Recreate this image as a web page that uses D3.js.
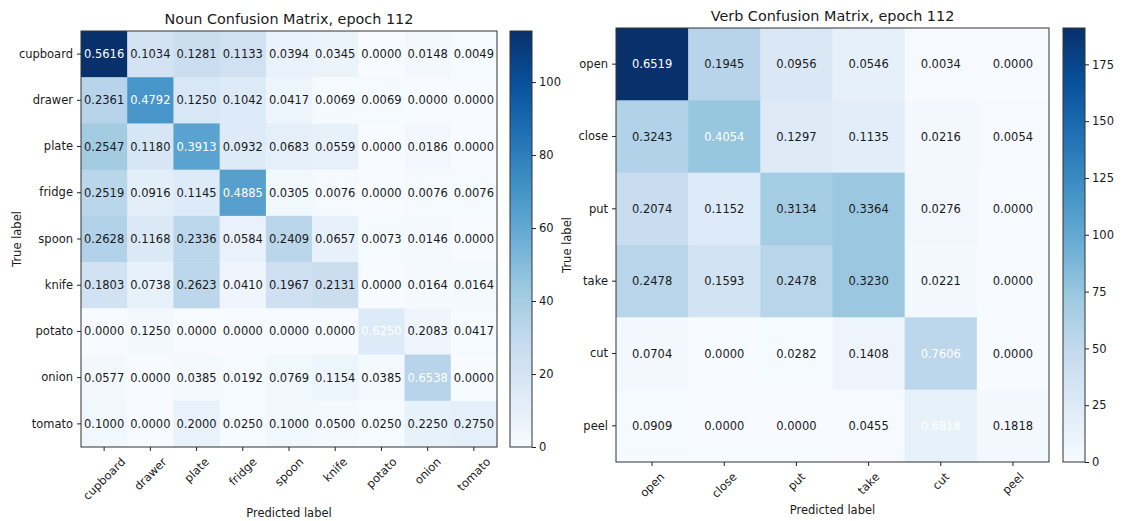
<!DOCTYPE html>
<html>
<head>
<meta charset="utf-8">
<script src="https://cdn.jsdelivr.net/npm/d3@7"></script>
<style>
  body { margin: 0; background: #fff; }
  text { font-family: "DejaVu Sans", sans-serif; }
</style>
</head>
<body>
<svg id="chart" width="1127" height="521"></svg>
<script>
// ---- Noun classes: row-normalised rates and number of samples per true class ----
const nounLabels = ["cupboard", "drawer", "plate", "fridge", "spoon", "knife", "potato", "onion", "tomato"];
const nounRates = [
  [0.5616, 0.1034, 0.1281, 0.1133, 0.0394, 0.0345, 0.0000, 0.0148, 0.0049],
  [0.2361, 0.4792, 0.1250, 0.1042, 0.0417, 0.0069, 0.0069, 0.0000, 0.0000],
  [0.2547, 0.1180, 0.3913, 0.0932, 0.0683, 0.0559, 0.0000, 0.0186, 0.0000],
  [0.2519, 0.0916, 0.1145, 0.4885, 0.0305, 0.0076, 0.0000, 0.0076, 0.0076],
  [0.2628, 0.1168, 0.2336, 0.0584, 0.2409, 0.0657, 0.0073, 0.0146, 0.0000],
  [0.1803, 0.0738, 0.2623, 0.0410, 0.1967, 0.2131, 0.0000, 0.0164, 0.0164],
  [0.0000, 0.1250, 0.0000, 0.0000, 0.0000, 0.0000, 0.6250, 0.2083, 0.0417],
  [0.0577, 0.0000, 0.0385, 0.0192, 0.0769, 0.1154, 0.0385, 0.6538, 0.0000],
  [0.1000, 0.0000, 0.2000, 0.0250, 0.1000, 0.0500, 0.0250, 0.2250, 0.2750]
];
const nounSupport = [203, 144, 161, 131, 137, 122, 24, 52, 40];
const nounColorTicks = [0, 20, 40, 60, 80, 100];

// ---- Verb classes ----
const verbLabels = ["open", "close", "put", "take", "cut", "peel"];
const verbRates = [
  [0.6519, 0.1945, 0.0956, 0.0546, 0.0034, 0.0000],
  [0.3243, 0.4054, 0.1297, 0.1135, 0.0216, 0.0054],
  [0.2074, 0.1152, 0.3134, 0.3364, 0.0276, 0.0000],
  [0.2478, 0.1593, 0.2478, 0.3230, 0.0221, 0.0000],
  [0.0704, 0.0000, 0.0282, 0.1408, 0.7606, 0.0000],
  [0.0909, 0.0000, 0.0000, 0.0455, 0.6818, 0.1818]
];
const verbSupport = [293, 185, 217, 226, 71, 22];
const verbColorTicks = [0, 25, 50, 75, 100, 125, 150, 175];

const epoch = 112;

// Sequential "Blues" ramp, piecewise-linear through the ColorBrewer stops
const bluesStops = ["#f7fbff", "#deebf7", "#c6dbef", "#9ecae1", "#6baed6",
                    "#4292c6", "#2171b5", "#08519c", "#08306b"];

const FS = 11.5;        // tick / cell text size
const TITLE_FS = 14.4;  // title size
const TICK = 4, PAD = 4;
const SPINE = "#333";

const svg = d3.select("#chart");

function drawMatrix(cfg) {
  const { labels, rates, support, colorTicks, title } = cfg;
  const n = labels.length;
  // counts behind each rate: rate * samples in the true class
  const counts = rates.map((row, i) => row.map(r => Math.round(r * support[i])));
  const maxCount = d3.max(counts.flat());
  const maxRate = d3.max(rates.flat());

  const x = d3.scaleBand().domain(d3.range(n)).range([cfg.left, cfg.left + cfg.width]);
  const y = d3.scaleBand().domain(d3.range(n)).range([cfg.top, cfg.top + cfg.height]);
  const color = d3.scaleLinear()
    .domain(bluesStops.map((_, k) => k / (bluesStops.length - 1) * maxCount))
    .range(bluesStops)
    .interpolate(d3.interpolateRgb);

  const g = svg.append("g");

  const cells = [];
  counts.forEach((row, i) => row.forEach((c, j) => cells.push({ i, j, c, r: rates[i][j] })));

  g.selectAll("rect.cell").data(cells).join("rect")
    .attr("class", "cell")
    .attr("x", d => x(d.j)).attr("y", d => y(d.i))
    .attr("width", x.bandwidth() + 0.5).attr("height", y.bandwidth() + 0.5)
    .attr("fill", d => color(d.c));

  g.selectAll("text.val").data(cells).join("text")
    .attr("class", "val")
    .attr("x", d => x(d.j) + x.bandwidth() / 2)
    .attr("y", d => y(d.i) + y.bandwidth() / 2)
    .attr("text-anchor", "middle")
    .attr("dominant-baseline", "central")
    .attr("font-size", FS)
    .attr("fill", d => d.r > maxRate / 2 ? "#fff" : "#1a1a1a")
    .text(d => d.r.toFixed(4));

  // frame
  g.append("rect")
    .attr("x", cfg.left).attr("y", cfg.top)
    .attr("width", cfg.width).attr("height", cfg.height)
    .attr("fill", "none").attr("stroke", SPINE).attr("stroke-width", 1);

  // y axis
  const yAxis = g.append("g").attr("transform", `translate(${cfg.left},0)`)
    .call(d3.axisLeft(y).tickSize(TICK).tickSizeOuter(0).tickPadding(PAD).tickFormat(i => labels[i]));
  yAxis.select(".domain").remove();
  yAxis.selectAll("line").attr("stroke", "#222");
  yAxis.selectAll("text").attr("font-size", FS).attr("fill", "#1a1a1a")
    .attr("font-family", "DejaVu Sans, sans-serif");

  // x axis with 45° labels centred under each tick
  const bottom = cfg.top + cfg.height;
  const xAxis = g.append("g").attr("transform", `translate(0,${bottom})`)
    .call(d3.axisBottom(x).tickSize(TICK).tickSizeOuter(0).tickFormat(i => labels[i]));
  xAxis.select(".domain").remove();
  xAxis.selectAll("line").attr("stroke", "#222");
  const lineH = FS * 1.164;
  xAxis.selectAll("text")
    .attr("font-size", FS).attr("fill", "#1a1a1a")
    .attr("font-family", "DejaVu Sans, sans-serif")
    .attr("y", null).attr("dy", null)
    .attr("text-anchor", "middle")
    .attr("dominant-baseline", "central")
    .each(function () {
      const w = this.getComputedTextLength();
      const h = (w + lineH) * Math.SQRT1_2;
      d3.select(this).attr("transform", `translate(0,${TICK + PAD + h / 2}) rotate(-45)`);
    });

  // titles and axis names
  g.append("text")
    .attr("x", cfg.left + cfg.width / 2).attr("y", cfg.top - 7)
    .attr("text-anchor", "middle").attr("font-size", TITLE_FS).attr("fill", "#1a1a1a")
    .text(title);
  g.append("text")
    .attr("transform", `translate(${cfg.ylabelX},${cfg.top + cfg.height / 2}) rotate(-90)`)
    .attr("text-anchor", "middle").attr("dominant-baseline", "central")
    .attr("font-size", FS).attr("fill", "#1a1a1a")
    .text("True label");
  g.append("text")
    .attr("x", cfg.left + cfg.width / 2).attr("y", cfg.xlabelY)
    .attr("text-anchor", "middle").attr("font-size", FS).attr("fill", "#1a1a1a")
    .text("Predicted label");

  // colour bar
  const gradId = "grad-" + cfg.key;
  const grad = svg.append("defs").append("linearGradient")
    .attr("id", gradId).attr("x1", 0).attr("y1", 1).attr("x2", 0).attr("y2", 0);
  bluesStops.forEach((c, k) => grad.append("stop")
    .attr("offset", k / (bluesStops.length - 1)).attr("stop-color", c));

  const cbScale = d3.scaleLinear().domain([0, maxCount]).range([bottom, cfg.top]);
  g.append("rect")
    .attr("x", cfg.cbLeft).attr("y", cfg.top)
    .attr("width", cfg.cbWidth).attr("height", cfg.height)
    .attr("fill", `url(#${gradId})`)
    .attr("stroke", SPINE).attr("stroke-width", 1);
  const cbAxis = g.append("g").attr("transform", `translate(${cfg.cbLeft + cfg.cbWidth},0)`)
    .call(d3.axisRight(cbScale).tickValues(colorTicks).tickSize(TICK).tickPadding(PAD - 1).tickSizeOuter(0));
  cbAxis.select(".domain").remove();
  cbAxis.selectAll("line").attr("stroke", "#222");
  cbAxis.selectAll("text").attr("font-size", FS).attr("fill", "#1a1a1a")
    .attr("font-family", "DejaVu Sans, sans-serif");
}

drawMatrix({
  key: "noun", labels: nounLabels, rates: nounRates, support: nounSupport,
  colorTicks: nounColorTicks, title: `Noun Confusion Matrix, epoch ${epoch}`,
  left: 81, top: 31, width: 416, height: 416,
  cbLeft: 510, cbWidth: 22, ylabelX: 17, xlabelY: 517
});

drawMatrix({
  key: "verb", labels: verbLabels, rates: verbRates, support: verbSupport,
  colorTicks: verbColorTicks, title: `Verb Confusion Matrix, epoch ${epoch}`,
  left: 616, top: 28, width: 433, height: 434,
  cbLeft: 1063, cbWidth: 22, ylabelX: 567, xlabelY: 513.5
});
</script>
</body>
</html>
